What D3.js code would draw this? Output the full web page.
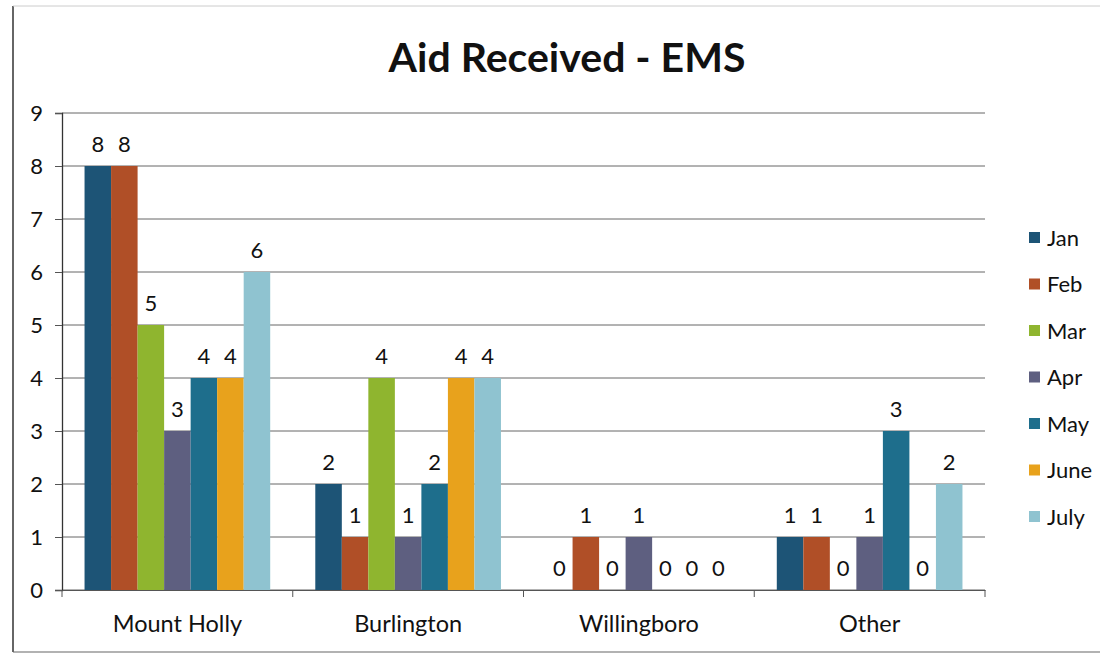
<!DOCTYPE html>
<html>
<head>
<meta charset="utf-8">
<script src="https://cdn.jsdelivr.net/npm/d3@7/dist/d3.min.js"></script>
<style>
  html, body { margin: 0; padding: 0; background: #fff; }
  svg { display: block; }
  text { font-family: Lato, "Open Sans", "Noto Sans", sans-serif; fill: #111; }
</style>
</head>
<body>
<svg id="chart" width="1110" height="656"></svg>
<script>
const title = "Aid Received - EMS";
const categories = ["Mount Holly", "Burlington", "Willingboro", "Other"];
const months = ["Jan", "Feb", "Mar", "Apr", "May", "June", "July"];
const colors = ["#1d5476", "#b04f27", "#8fb52f", "#5e5f80", "#1e6e8c", "#e8a21c", "#8fc3d0"];
const Jan  = [8, 2, 0, 1];
const Feb  = [8, 1, 1, 1];
const Mar  = [5, 4, 0, 0];
const Apr  = [3, 1, 1, 1];
const May  = [4, 2, 0, 3];
const June = [4, 4, 0, 0];
const July = [6, 4, 0, 2];
const series = [Jan, Feb, Mar, Apr, May, June, July];
const yTicks = [0, 1, 2, 3, 4, 5, 6, 7, 8, 9];

const svg = d3.select("#chart");
const plotLeft = 62, plotRight = 985, plotTop = 113, plotBottom = 590;
const labelFont = 22;

// outer frame (scanned page border)
svg.append("line").attr("x1", 13).attr("x2", 13).attr("y1", 6).attr("y2", 652)
  .attr("stroke", "#333").attr("stroke-width", 1.5);
svg.append("line").attr("x1", 13).attr("x2", 1100).attr("y1", 652).attr("y2", 652)
  .attr("stroke", "#666").attr("stroke-width", 1.2);
svg.append("line").attr("x1", 13).attr("x2", 1100).attr("y1", 6).attr("y2", 6)
  .attr("stroke", "#ccc").attr("stroke-width", 1);

const x0 = d3.scaleBand().domain(categories).range([plotLeft, plotRight]).paddingInner(0).paddingOuter(0);
const x1 = d3.scaleBand().domain(months).range([0, x0.bandwidth()]).paddingOuter(0.85).paddingInner(0);
const y = d3.scaleLinear().domain([0, 9]).range([plotBottom, plotTop]);

// gridlines
svg.append("g").selectAll("line").data(yTicks).join("line")
  .attr("x1", plotLeft).attr("x2", plotRight)
  .attr("y1", d => y(d)).attr("y2", d => y(d))
  .attr("stroke", "#666").attr("stroke-width", 1);

// y axis
const yAxis = svg.append("g").attr("transform", `translate(${plotLeft},0)`)
  .call(d3.axisLeft(y).tickValues(yTicks).tickFormat(d3.format("d")).tickSize(7).tickPadding(12));
yAxis.select(".domain").attr("stroke", "#333").attr("stroke-width", 1.3);
yAxis.selectAll(".tick line").attr("stroke", "#555");
yAxis.selectAll(".tick text").attr("font-size", labelFont).attr("fill", "#111")
  .style("font-family", "Lato, 'Open Sans', sans-serif");

// bars
const groups = svg.append("g").selectAll("g").data(categories).join("g")
  .attr("transform", d => `translate(${x0(d)},0)`);
months.forEach((m, mi) => {
  groups.append("rect")
    .attr("x", x1(m))
    .attr("width", x1.bandwidth())
    .attr("y", (d, ci) => y(series[mi][ci]))
    .attr("height", (d, ci) => y(0) - y(series[mi][ci]))
    .attr("fill", colors[mi]);
  groups.append("text")
    .attr("x", x1(m) + x1.bandwidth() / 2)
    .attr("y", (d, ci) => y(series[mi][ci]) - 14)
    .attr("text-anchor", "middle")
    .attr("font-size", labelFont)
    .text((d, ci) => series[mi][ci]);
});

// x axis
const xAxis = svg.append("g").attr("transform", `translate(0,${plotBottom})`)
  .call(d3.axisBottom(x0).tickSize(0).tickPadding(25));
xAxis.select(".domain").attr("stroke", "#555").attr("stroke-width", 1.2);
xAxis.selectAll(".tick text").attr("font-size", 23.5).attr("fill", "#111")
  .style("font-family", "Lato, 'Open Sans', sans-serif");
svg.append("g").selectAll("line").data(categories.concat(["end"])).join("line")
  .attr("x1", (d, i) => i < categories.length ? x0(d) : plotRight)
  .attr("x2", (d, i) => i < categories.length ? x0(d) : plotRight)
  .attr("y1", plotBottom).attr("y2", plotBottom + 7)
  .attr("stroke", "#555");

// title
svg.append("text").attr("x", 567).attr("y", 72).attr("text-anchor", "middle")
  .attr("font-size", 41).attr("font-weight", "bold").text(title);

// legend
const legend = svg.append("g").selectAll("g").data(months).join("g")
  .attr("transform", (d, i) => `translate(1029,${238 + i * 46.5})`);
legend.append("rect").attr("x", 0).attr("y", -6).attr("width", 11).attr("height", 11)
  .attr("fill", (d, i) => colors[i]);
legend.append("text").attr("x", 18).attr("y", 0).attr("dy", "0.35em")
  .attr("font-size", labelFont).text(d => d);
</script>
</body>
</html>
